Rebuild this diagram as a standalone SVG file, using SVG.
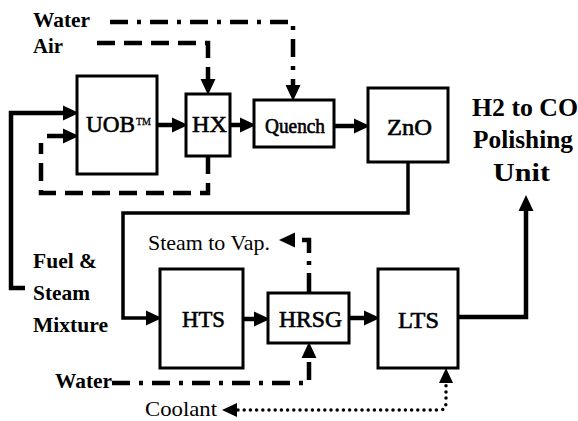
<svg xmlns="http://www.w3.org/2000/svg" width="578" height="421" viewBox="0 0 578 421" font-family="'Liberation Serif', 'DejaVu Serif', serif">
<defs>
<marker id="ah" markerUnits="userSpaceOnUse" markerWidth="16" markerHeight="16" refX="0" refY="7" orient="auto-start-reverse" viewBox="0 0 15 14">
<path d="M0,0 L15,7 L0,14 z" fill="#000"/>
</marker>
<style>
.box{fill:#fff;stroke:#000;stroke-width:3}
.flow{fill:none;stroke:#000;stroke-width:4.5}
.thin{fill:none;stroke:#000;stroke-width:3.5}
.dash{fill:none;stroke:#000;stroke-width:4.5;stroke-dasharray:18 9}
.dashdot{fill:none;stroke:#000;stroke-width:4.5;stroke-dasharray:18 9 4 9}
.dot{fill:none;stroke:#000;stroke-width:3.5;stroke-linecap:round;stroke-dasharray:0 6.2}
text{font-family:'Liberation Serif','DejaVu Serif',serif}
.lbl{font-size:23px;fill:#000;stroke:#000;stroke-width:0.6}
.bold{font-weight:bold;font-size:21px;fill:#000}
.reg{font-size:21px;fill:#000}
</style>
</defs>
<rect width="578" height="421" fill="#fff"/>
<g id="connectors">
<path class="flow" d="M25,288 H11 V113 H63" marker-end="url(#ah)"/>
<path class="flow" d="M47,136 H63" marker-end="url(#ah)"/>
<path class="dash" d="M208,156 V193 H41 V143"/>
<path class="flow" d="M157,125 H172" marker-end="url(#ah)"/>
<path class="flow" d="M230,125 H240" marker-end="url(#ah)"/>
<path class="flow" d="M334,126 H354" marker-end="url(#ah)"/>
<path class="dash" d="M97,43 H208 V79" marker-end="url(#ah)"/>
<path class="dashdot" d="M110,22 H293 V85" marker-end="url(#ah)"/>
<path class="thin" d="M408,162 V213 H123 V318 H146" marker-end="url(#ah)"/>
<path class="flow" d="M243,319 H254" marker-end="url(#ah)"/>
<path class="flow" d="M349,318 H364" marker-end="url(#ah)"/>
<path class="flow" d="M458,317 H526 V211" marker-end="url(#ah)"/>
<path class="dashdot" d="M309,293 V240 H295" marker-end="url(#ah)" style="stroke-dasharray:20 8 4 8"/>
<path class="dashdot" d="M112,383 H309 V358" marker-end="url(#ah)"/>
<path class="dot" d="M238,410 H440 Q446,410 446,402 V384"/>
<path d="M237,403 L222,410 L237,417 z" fill="#000"/>
<path d="M439,383 L446,368 L453,383 z" fill="#000"/>
</g>
<g id="uob">
<rect class="box" x="77" y="76" width="80" height="98"/>
<text class="lbl" x="86" y="132" textLength="49" lengthAdjust="spacingAndGlyphs">UOB</text>
<text class="lbl" x="136" y="125" style="font-size:10px;stroke-width:0.3">TM</text>
</g>
<g id="hx">
<rect class="box" x="186" y="94" width="44" height="62"/>
<text class="lbl" x="192" y="132" textLength="35" lengthAdjust="spacingAndGlyphs">HX</text>
</g>
<g id="quench">
<rect class="box" x="254" y="100" width="80" height="47"/>
<text class="lbl" x="265" y="133" style="font-size:20px" textLength="60" lengthAdjust="spacingAndGlyphs">Quench</text>
</g>
<g id="zno">
<rect class="box" x="368" y="88" width="80" height="74"/>
<text class="lbl" x="387" y="135" textLength="45" lengthAdjust="spacingAndGlyphs">ZnO</text>
</g>
<g id="hts">
<rect class="box" x="160" y="269" width="83" height="99"/>
<text class="lbl" x="182" y="327" textLength="43" lengthAdjust="spacingAndGlyphs">HTS</text>
</g>
<g id="hrsg">
<rect class="box" x="268" y="293" width="81" height="50"/>
<text class="lbl" x="279" y="327" textLength="63" lengthAdjust="spacingAndGlyphs">HRSG</text>
</g>
<g id="lts">
<rect class="box" x="378" y="269" width="80" height="99"/>
<text class="lbl" x="398" y="328" textLength="41" lengthAdjust="spacingAndGlyphs">LTS</text>
</g>
<g id="labels">
<text class="bold" x="33" y="27" textLength="57" lengthAdjust="spacingAndGlyphs">Water</text>
<text class="bold" x="33" y="53" textLength="30" lengthAdjust="spacingAndGlyphs">Air</text>
<text class="bold" x="33" y="268" style="font-size:22px" textLength="64" lengthAdjust="spacingAndGlyphs">Fuel &amp;</text>
<text class="bold" x="33" y="300" style="font-size:22px" textLength="57" lengthAdjust="spacingAndGlyphs">Steam</text>
<text class="bold" x="33" y="332" style="font-size:22px" textLength="75" lengthAdjust="spacingAndGlyphs">Mixture</text>
<text class="bold" x="472" y="116" style="font-size:26px" textLength="106" lengthAdjust="spacingAndGlyphs">H2 to CO</text>
<text class="bold" x="473" y="148" style="font-size:26px" textLength="100" lengthAdjust="spacingAndGlyphs">Polishing</text>
<text class="bold" x="493" y="181" style="font-size:26px" textLength="57" lengthAdjust="spacingAndGlyphs">Unit</text>
<text class="reg" x="148" y="250" textLength="122" lengthAdjust="spacingAndGlyphs">Steam to Vap.</text>
<text class="bold" x="55" y="388" textLength="57" lengthAdjust="spacingAndGlyphs">Water</text>
<text class="reg" x="145" y="416" textLength="72" lengthAdjust="spacingAndGlyphs">Coolant</text>
</g>
</svg>
